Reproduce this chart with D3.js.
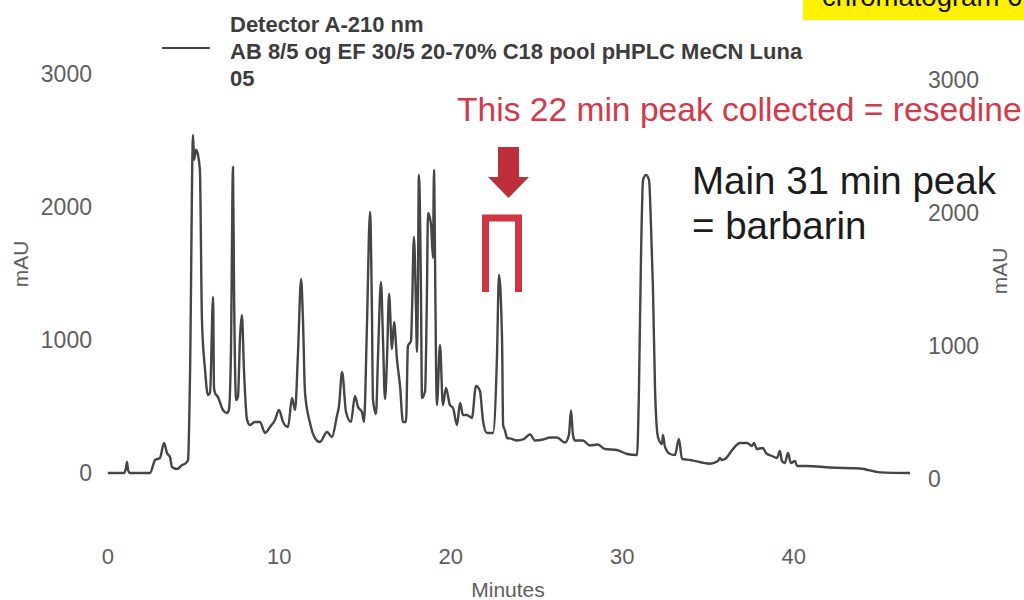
<!DOCTYPE html>
<html>
<head>
<meta charset="utf-8">
<script src="https://cdn.jsdelivr.net/npm/d3@7"></script>
<style>
  body { margin: 0; background: #fff; }
  svg { display: block; font-family: "Liberation Sans", Arial, sans-serif; }
</style>
</head>
<body>
<svg id="chart" width="1024" height="600"></svg>
<script>
// retention time (minutes) and absorbance (mAU)
const TIMES = [
  0.00, 0.94, 1.06, 1.12, 1.18, 1.30, 2.46, 2.76, 3.04, 3.28, 3.45, 3.63, 3.74, 4.04, 4.33, 4.56, 4.68,
  4.79, 4.97, 5.03, 5.14, 5.26, 5.37, 5.49, 5.67, 5.84, 5.96, 6.14, 6.19, 6.25, 6.42, 6.71, 6.95, 7.06,
  7.18, 7.30, 7.36, 7.48, 7.59, 7.71, 7.82, 7.94, 8.12, 8.29, 8.58, 8.87, 9.17, 9.46, 9.75, 9.98, 10.22,
  10.51, 10.74, 10.92, 11.09, 11.27, 11.38, 11.50, 11.79, 12.08, 12.37, 12.78, 13.07, 13.36, 13.48, 13.66,
  13.89, 14.18, 14.41, 14.59, 14.82, 14.94, 15.11, 15.29, 15.40, 15.46, 15.64, 15.75, 15.93, 16.05, 16.16,
  16.28, 16.40, 16.57, 16.69, 16.86, 17.04, 17.21, 17.39, 17.50, 17.68, 17.74, 17.85, 17.97, 18.03, 18.08,
  18.14, 18.26, 18.32, 18.50, 18.61, 18.67, 18.85, 18.96, 19.02, 19.08, 19.14, 19.19, 19.37, 19.54, 19.72,
  19.95, 20.13, 20.36, 20.54, 20.71, 20.94, 21.23, 21.47, 21.70, 21.88, 22.11, 22.46, 22.69, 22.81, 22.99,
  23.05, 23.16, 23.28, 23.45, 23.86, 24.21, 24.62, 24.91, 25.38, 25.79, 26.19, 26.66, 26.89, 27.01, 27.12,
  27.24, 27.70, 28.11, 28.58, 28.99, 29.69, 30.27, 30.86, 30.97, 31.09, 31.21, 31.38, 31.56, 31.67, 31.79,
  31.91, 32.08, 32.31, 32.37, 32.49, 32.78, 33.07, 33.30, 33.48, 33.94, 35.11, 35.58, 35.69, 35.81, 35.99,
  36.45, 36.86, 37.27, 37.56, 37.68, 37.85, 38.20, 38.38, 38.73, 39.02, 39.19, 39.31, 39.48, 39.66, 39.83,
  40.07, 40.19, 40.77, 42.11, 43.86, 45.03, 46.78
];
const MAU = [
  0, 0, 38, 83, 23, 0, 0, 98, 113, 226, 150, 120, 45, 30, 60, 75, 98,
  700, 2542, 2354, 2430, 2390, 2280, 1150, 775, 587, 602, 1324, 647, 602, 572, 474, 451, 474,
  902, 2301, 1399, 549, 572, 1023, 1188, 775, 399, 361, 384, 384, 301, 346, 399, 474, 384,
  346, 564, 474, 902, 1459, 1151, 602, 376, 263, 233, 308, 271, 429, 504, 760,
  459, 384, 579, 496, 459, 384, 1105, 1963, 1233, 556, 444, 857, 1436, 985, 556,
  857, 1346, 932, 1136, 857, 654, 384, 384, 955, 993, 1233, 1775, 1233, 910, 1361,
  2241, 1369, 564, 617, 1369, 1955, 1865, 1617, 2279, 1617, 812, 511, 963, 511, 639,
  511, 489, 361, 526, 436, 436, 414, 654, 617, 391, 301, 301, 865, 1489, 993,
  361, 320, 263, 260, 244, 252, 290, 244, 252, 267, 267, 229, 290, 470, 290,
  244, 244, 207, 214, 180, 173, 143, 135, 624, 1624, 2203, 2241, 2203, 1872, 1376,
  624, 271, 218, 286, 196, 143, 135, 256, 105, 98, 70, 90, 113, 98, 105,
  180, 226, 226, 203, 226, 180, 188, 150, 128, 113, 165, 90, 75, 150, 75,
  90, 53, 53, 41, 34, 5, 0
];

const X_TICKS = [0, 10, 20, 30, 40];
const Y_TICKS = [0, 1000, 2000, 3000];
const LEGEND_LINES = ["Detector A-210 nm", "AB 8/5 og EF 30/5 20-70% C18 pool pHPLC MeCN Luna", "05"];
const RESEDINE_TIME = 22.81; // the peak that was collected
const RESEDINE_MAU = 1489;

const TRACE_COLOR = "#454545";
const TICK_COLOR = "#5e5e5e";
const RED = "#d23a4b";

const svg = d3.select("#chart");

const xScale = d3.scaleLinear().domain([0, 40]).range([107.8, 793.8]);
const yScale = d3.scaleLinear().domain([0, 3000]).range([473, 74]);
// the scan is slightly rotated, so the right hand axis sits a few px lower
const yRight = d3.scaleLinear().domain([0, 3000]).range([479, 80]);

// left axis labels
svg.append("g")
  .selectAll("text")
  .data(Y_TICKS)
  .join("text")
  .attr("x", 92)
  .attr("y", d => yScale(d))
  .attr("dy", "0.35em")
  .attr("text-anchor", "end")
  .attr("font-size", 23)
  .attr("fill", TICK_COLOR)
  .text(d => d);

// right axis labels
svg.append("g")
  .selectAll("text")
  .data(Y_TICKS)
  .join("text")
  .attr("x", 928)
  .attr("y", d => yRight(d))
  .attr("dy", "0.35em")
  .attr("font-size", 23)
  .attr("fill", TICK_COLOR)
  .text(d => d);

// bottom axis labels
svg.append("g")
  .selectAll("text")
  .data(X_TICKS)
  .join("text")
  .attr("x", d => xScale(d))
  .attr("y", 556)
  .attr("dy", "0.35em")
  .attr("text-anchor", "middle")
  .attr("font-size", 22)
  .attr("fill", TICK_COLOR)
  .text(d => d);

svg.append("text")
  .attr("x", 508).attr("y", 590).attr("dy", "0.35em")
  .attr("text-anchor", "middle")
  .attr("font-size", 21)
  .attr("fill", TICK_COLOR)
  .text("Minutes");

svg.append("text")
  .attr("transform", "translate(21,264) rotate(-90)")
  .attr("dy", "0.35em")
  .attr("text-anchor", "middle")
  .attr("font-size", 21)
  .attr("fill", TICK_COLOR)
  .text("mAU");

svg.append("text")
  .attr("transform", "translate(1000,271) rotate(-90)")
  .attr("dy", "0.35em")
  .attr("text-anchor", "middle")
  .attr("font-size", 21)
  .attr("fill", TICK_COLOR)
  .text("mAU");

// legend
svg.append("line")
  .attr("x1", 162).attr("x2", 210)
  .attr("y1", 48).attr("y2", 48)
  .attr("stroke", TRACE_COLOR)
  .attr("stroke-width", 2);

svg.append("g")
  .selectAll("text")
  .data(LEGEND_LINES)
  .join("text")
  .attr("x", 230)
  .attr("y", (d, i) => 32 + i * 27)
  .attr("font-size", 22)
  .attr("font-weight", "bold")
  .attr("fill", "#3d3d3d")
  .text(d => d);

// the trace
const points = TIMES.map((t, i) => [t, MAU[i]]);
const line = d3.line()
  .x(d => xScale(d[0]))
  .y(d => yScale(d[1]))
  .curve(d3.curveMonotoneX);

svg.append("path")
  .datum(points)
  .attr("d", line)
  .attr("fill", "none")
  .attr("stroke", TRACE_COLOR)
  .attr("stroke-width", 2.4)
  .attr("stroke-linejoin", "round");

// annotations over the collected peak
const px = xScale(RESEDINE_TIME);
const py = yScale(RESEDINE_MAU);

svg.append("path")
  .attr("d", `M${px - 1},${py - 128} h21 v30 h10 l-20.5,21 l-20.5,-21 h10 z`)
  .attr("fill", "#bd2f3b");

svg.append("path")
  .attr("d", `M${px - 13.5},${py + 17} V${py - 57} H${px + 19.5} V${py + 17}`)
  .attr("fill", "none")
  .attr("stroke", "#cf3543")
  .attr("stroke-width", 7);

svg.append("text")
  .attr("x", 457).attr("y", 121)
  .attr("font-size", 33.6)
  .attr("fill", RED)
  .text("This 22 min peak collected = resedine");

svg.append("text")
  .attr("x", 692).attr("y", 194)
  .attr("font-size", 38.5)
  .attr("fill", "#1c1c1c")
  .text("Main 31 min peak");

svg.append("text")
  .attr("x", 692).attr("y", 239)
  .attr("font-size", 38.5)
  .attr("fill", "#1c1c1c")
  .text("= barbarin");

// yellow tag at the top right, cut by the page edge
svg.append("rect")
  .attr("x", 803).attr("y", 0)
  .attr("width", 221).attr("height", 20)
  .attr("fill", "#fff200");

svg.append("text")
  .attr("x", 822).attr("y", 6)
  .attr("font-size", 27.5)
  .attr("fill", "#111")
  .text("chromatogram 6");
</script>
</body>
</html>
